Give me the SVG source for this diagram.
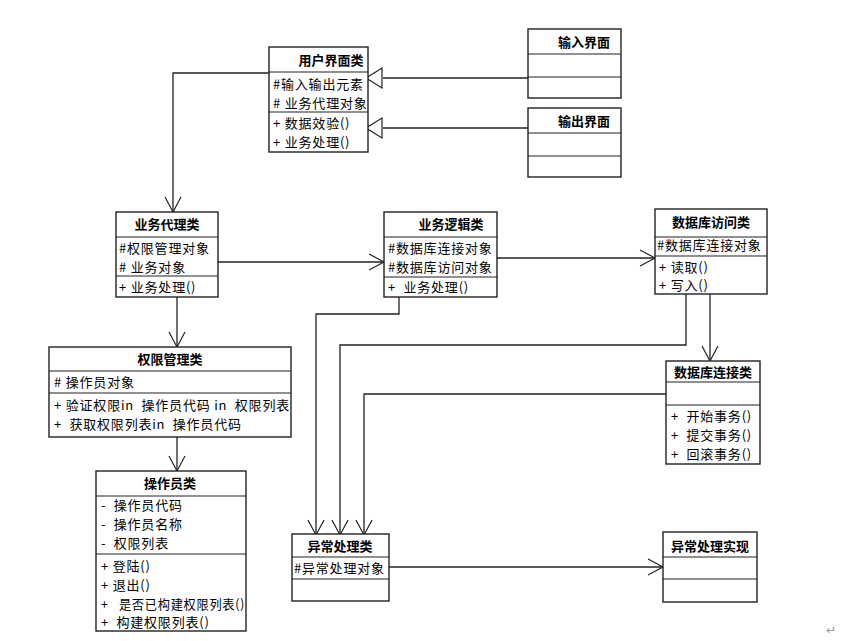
<svg xmlns="http://www.w3.org/2000/svg" width="857" height="641" viewBox="0 0 857 641">
<style>
.box{fill:#fff;stroke:#222;stroke-width:1.4}
.sep{stroke:#222;stroke-width:1.2}
.h{font-family:"Noto Sans CJK SC","Liberation Sans",sans-serif;font-size:13px;font-weight:bold;fill:#000}
.t{font-family:"Noto Sans CJK SC","Liberation Sans",sans-serif;font-size:13px;fill:#000;letter-spacing:0.8px;white-space:pre}
.c{fill:none;stroke:#222;stroke-width:1.3}
</style>
<defs>
<marker id="open" markerUnits="userSpaceOnUse" markerWidth="18" markerHeight="20" refX="16" refY="9" orient="auto">
<path d="M1,1 L16,9 L1,17" fill="none" stroke="#222" stroke-width="1.2"/>
</marker>
</defs>
<rect width="857" height="641" fill="#fff"/>
<g id="connectors">
<polyline class="c" points="269,73 173,73 173,212" marker-end="url(#open)"/>
<line class="c" x1="528" y1="78" x2="383" y2="78"/>
<path d="M366,78 L382,68 L382,88 Z" fill="#fff" stroke="#222" stroke-width="1.2"/>
<line class="c" x1="528" y1="128" x2="383" y2="128" stroke="#555"/>
<path d="M366,128 L382,118 L382,138 Z" fill="#fff" stroke="#222" stroke-width="1.2"/>
<line class="c" x1="177" y1="297" x2="177" y2="347" marker-end="url(#open)"/>
<line class="c" x1="177" y1="437" x2="177" y2="471" marker-end="url(#open)"/>
<line class="c" x1="218" y1="262" x2="384" y2="262" marker-end="url(#open)"/>
<line class="c" x1="497" y1="258" x2="655" y2="258" marker-end="url(#open)"/>
<line class="c" x1="710" y1="294" x2="710" y2="361" marker-end="url(#open)"/>
<polyline class="c" points="399,297 399,314 316,314 316,535" marker-end="url(#open)"/>
<polyline class="c" points="686,294 686,345 340,345 340,535" marker-end="url(#open)"/>
<polyline class="c" points="666,394 364,394 364,535" marker-end="url(#open)"/>
<line class="c" x1="389" y1="567" x2="663" y2="567" marker-end="url(#open)"/>
</g>
<g id="yonghujiemian">
<rect class="box" x="269" y="47" width="99" height="105"/>
<line class="sep" x1="269" y1="72" x2="368" y2="72"/>
<line class="sep" x1="269" y1="112" x2="368" y2="112"/>
<text class="h" x="331" y="65" text-anchor="middle">用户界面类</text>
<text class="t" x="273" y="89">#输入输出元素</text>
<text class="t" x="273" y="108"># 业务代理对象</text>
<text class="t" x="273" y="128">+ 数据效验()</text>
<text class="t" x="273" y="147">+ 业务处理()</text>
</g>
<g id="shurujiemian">
<rect class="box" x="528" y="29" width="93" height="69"/>
<line class="sep" x1="528" y1="54" x2="621" y2="54"/>
<line class="sep" x1="528" y1="77" x2="621" y2="77"/>
<text class="h" x="584" y="47" text-anchor="middle">输入界面</text>
</g>
<g id="shuchujiemian">
<rect class="box" x="528" y="108" width="93" height="69"/>
<line class="sep" x1="528" y1="133" x2="621" y2="133"/>
<line class="sep" x1="528" y1="156" x2="621" y2="156"/>
<text class="h" x="584" y="126" text-anchor="middle">输出界面</text>
</g>
<g id="yewudaili">
<rect class="box" x="116" y="212" width="102" height="85"/>
<line class="sep" x1="116" y1="237" x2="218" y2="237"/>
<line class="sep" x1="116" y1="276" x2="218" y2="276"/>
<text class="h" x="167" y="229" text-anchor="middle">业务代理类</text>
<text class="t" x="119" y="253">#权限管理对象</text>
<text class="t" x="119" y="272"># 业务对象</text>
<text class="t" x="119" y="292">+ 业务处理()</text>
</g>
<g id="yewuluoji">
<rect class="box" x="384" y="212" width="113" height="85"/>
<line class="sep" x1="384" y1="237" x2="497" y2="237"/>
<line class="sep" x1="384" y1="277" x2="497" y2="277"/>
<text class="h" x="451" y="229" text-anchor="middle">业务逻辑类</text>
<text class="t" x="388" y="253">#数据库连接对象</text>
<text class="t" x="388" y="272">#数据库访问对象</text>
<text class="t" x="388" y="292">+  业务处理()</text>
</g>
<g id="shujukufangwen">
<rect class="box" x="655" y="209" width="112" height="85"/>
<line class="sep" x1="655" y1="237" x2="767" y2="237"/>
<line class="sep" x1="655" y1="256" x2="767" y2="256"/>
<text class="h" x="711" y="227" text-anchor="middle">数据库访问类</text>
<text class="t" x="657" y="250">#数据库连接对象</text>
<text class="t" x="659" y="272">+ 读取()</text>
<text class="t" x="659" y="290">+ 写入()</text>
</g>
<g id="quanxianguanli">
<rect class="box" x="49" y="347" width="242" height="90"/>
<line class="sep" x1="49" y1="371" x2="291" y2="371"/>
<line class="sep" x1="49" y1="393" x2="291" y2="393"/>
<text class="h" x="170" y="364" text-anchor="middle">权限管理类</text>
<text class="t" x="54" y="387"># 操作员对象</text>
<text class="t" x="54" y="410" textLength="236" lengthAdjust="spacing">+ 验证权限in  操作员代码 in  权限列表</text>
<text class="t" x="54" y="429">+  获取权限列表in  操作员代码</text>
</g>
<g id="caozuoyuan">
<rect class="box" x="96" y="471" width="150" height="160"/>
<line class="sep" x1="96" y1="496" x2="246" y2="496"/>
<line class="sep" x1="96" y1="554" x2="246" y2="554"/>
<text class="h" x="170" y="488" text-anchor="middle">操作员类</text>
<text class="t" x="101" y="510">-  操作员代码</text>
<text class="t" x="101" y="529">-  操作员名称</text>
<text class="t" x="101" y="548">-  权限列表</text>
<text class="t" x="101" y="571">+ 登陆()</text>
<text class="t" x="101" y="590">+ 退出()</text>
<text class="t" x="101" y="609" textLength="144" lengthAdjust="spacingAndGlyphs">+   是否已构建权限列表()</text>
<text class="t" x="101" y="627">+  构建权限列表()</text>
</g>
<g id="shujukulianjie">
<rect class="box" x="666" y="361" width="94" height="103"/>
<line class="sep" x1="666" y1="382" x2="760" y2="382"/>
<line class="sep" x1="666" y1="405" x2="760" y2="405"/>
<text class="h" x="713" y="377" text-anchor="middle">数据库连接类</text>
<text class="t" x="671" y="421">+  开始事务()</text>
<text class="t" x="671" y="440">+  提交事务()</text>
<text class="t" x="671" y="459">+  回滚事务()</text>
</g>
<g id="yichangchuli">
<rect class="box" x="292" y="534" width="97" height="67"/>
<line class="sep" x1="292" y1="557" x2="389" y2="557"/>
<line class="sep" x1="292" y1="579" x2="389" y2="579"/>
<text class="h" x="340" y="551" text-anchor="middle">异常处理类</text>
<text class="t" x="294" y="573">#异常处理对象</text>
</g>
<g id="yichangshixian">
<rect class="box" x="663" y="532" width="94" height="70"/>
<line class="sep" x1="663" y1="557" x2="757" y2="557"/>
<line class="sep" x1="663" y1="579" x2="757" y2="579"/>
<text class="h" x="710" y="551" text-anchor="middle">异常处理实现</text>
</g>
<text x="826" y="634" font-family="DejaVu Sans, sans-serif" font-size="12" fill="#999">↵</text>
</svg>
